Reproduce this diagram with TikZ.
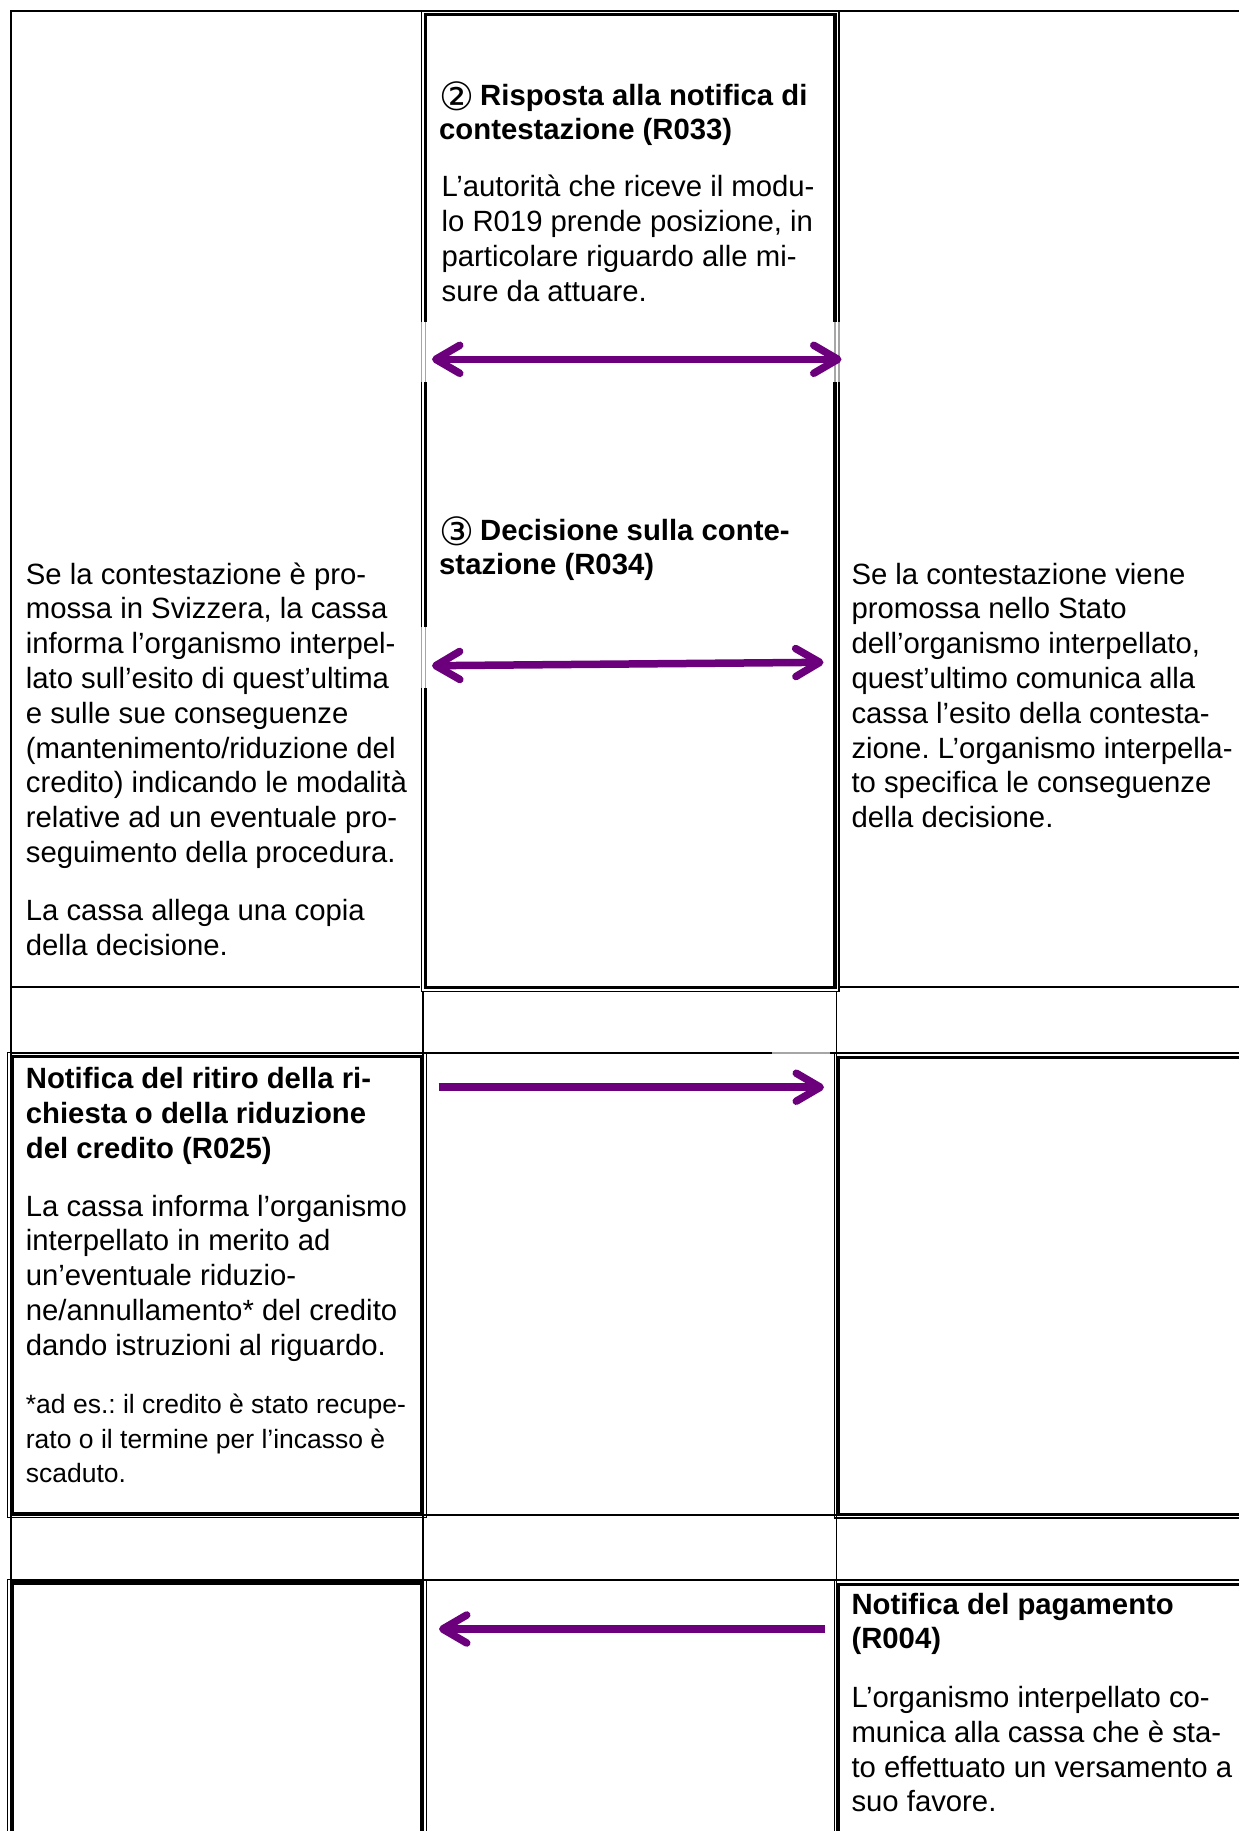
\documentclass[tikz,border=0pt]{standalone}
\usepackage{fontspec}
\setmainfont{Liberation Sans}[Ligatures=NoCommon]
\newfontfamily\circfont{DejaVu Sans}
\usetikzlibrary{arrows.meta}
\definecolor{arrowpurple}{RGB}{108,0,124}
\frenchspacing
\newcommand\lns[1]{\begin{tabular}[t]{@{}l@{}}#1\end{tabular}}
\newcommand\bodyfs{\fontsize{29.3pt}{34.8pt}\selectfont}
\newcommand\notefs{\fontsize{26.5pt}{34.5pt}\selectfont}
\newcommand\circnum[1]{\makebox[41pt][l]{\raisebox{-5pt}{\circfont\fontsize{39pt}{39pt}\selectfont #1}}}
\begin{document}
\begin{tikzpicture}[x=1pt,y=-1pt,
  gridline/.style={line width=1.7pt},
  dblout/.style={line width=1.5pt},
  dblin/.style={line width=3.6pt},
  artefact/.style={draw=black!35,line width=1.4pt},
  flow/.style={draw=arrowpurple,line width=7.5pt},
  >={Straight Barb[length=24pt,width=28pt,round]},
  txt/.style={inner sep=0pt,anchor=base west,font=\bodyfs},
  note/.style={inner sep=0pt,anchor=base west,font=\notefs}]
\useasboundingbox (0,0) rectangle (1239,1831);
\clip (0,0) rectangle (1239,1831);
\fill[white] (0,0) rectangle (1239,1831);

% ---- table grid (thin lines)
\draw[gridline] (11,11) -- (1260,11);
\draw[gridline] (11,987) -- (1260,987);
\draw[gridline] (11,1053) -- (1260,1053);
\draw[gridline] (11,1515) -- (1260,1515);
\draw[gridline] (11,1580) -- (1260,1580);
\draw[gridline] (11,10.2) -- (11,1900);
\draw[gridline] (423,11) -- (423,1900);
\draw[gridline] (836.5,11) -- (836.5,1900);

% ---- double-bordered cells
% row 1, middle column
\fill[white] (420,12) rectangle (840,992);
\draw[dblout] (421.5,11) rectangle (839,991.5);
\draw[dblin] (425.3,14.5) rectangle (835,987.5);
% row 3, left
\draw[dblout] (7.3,1052.7) rectangle (426.5,1517.5);
\draw[dblin] (12,1056.5) rectangle (422,1513.7);
% row 3, right
\draw[dblout] (834.3,1053.5) rectangle (1270,1518);
\draw[dblin] (838.5,1057.5) rectangle (1266,1514.5);
% row 5, left
\draw[dblout] (7.3,1579.3) rectangle (426.5,1900);
\draw[dblin] (12,1583) rectangle (422,1900);
% row 5, right
\draw[dblout] (834.3,1579.5) rectangle (1270,1900);
\draw[dblin] (838.5,1584.5) rectangle (1266,1900);

% ---- grey patches left where the arrows cover the borders
\fill[white] (419.5,322) rectangle (427.5,382);
\draw[artefact] (421.3,322) -- (421.3,382) (425.3,322) -- (425.3,382);
\fill[white] (833,322) rectangle (841,382);
\draw[artefact] (834.8,322) -- (834.8,382) (838.8,322) -- (838.8,382);
\fill[white] (419.5,627) rectangle (427.5,688);
\draw[artefact] (421.3,627) -- (421.3,688) (425.3,627) -- (425.3,688);
\draw[artefact] (772,1053) -- (830,1053);

% ---- middle column, row 1
\node[txt] (h2) at (439,105) {\lns{\circnum{②}\textbf{Risposta alla notifica di}\\
\textbf{contestazione (R033)}}};
\node[txt] (b2) at (441.4,196.7) {\lns{L’autorità che riceve il modu-\\
lo R019 prende posizione, in\\
particolare riguardo alle mi-\\
sure da attuare.}};
\node[txt] (h3) at (439,540) {\lns{\circnum{③}\textbf{Decisione sulla conte-}\\
\textbf{stazione (R034)}}};

% ---- left column, row 1
\node[txt] (l1) at (25.7,584) {\lns{Se la contestazione è pro-\\
mossa in Svizzera, la cassa\\
informa l’organismo interpel-\\
lato sull’esito di quest’ultima\\
e sulle sue conseguenze\\
(mantenimento/riduzione del\\
credito) indicando le modalità\\
relative ad un eventuale pro-\\
seguimento della procedura.}};
\node[txt] (l2) at (25.7,920.2) {\lns{La cassa allega una copia\\
della decisione.}};

% ---- right column, row 1
\node[txt] (r1) at (851.3,584) {\lns{Se la contestazione viene\\
promossa nello Stato\\
dell’organismo interpellato,\\
quest’ultimo comunica alla\\
cassa l’esito della contesta-\\
zione. L’organismo interpella-\\
to specifica le conseguenze\\
della decisione.}};

% ---- row 3, left
\node[txt] (n1) at (25.7,1088.5) {\lns{\textbf{Notifica del ritiro della ri-}\\
\textbf{chiesta o della riduzione}\\
\textbf{del credito (R025)}}};
\node[txt] (n2) at (25.7,1216) {\lns{La cassa informa l’organismo\\
interpellato in merito ad\\
un’eventuale riduzio-\\
ne/annullamento* del credito\\
dando istruzioni al riguardo.}};
\node[note] (n3) at (25.7,1413.5) {\lns{*ad es.: il credito è stato recupe-\\
rato o il termine per l’incasso è\\
scaduto.}};

% ---- row 5, right
\node[txt] (p1) at (851.3,1614) {\lns{\textbf{Notifica del pagamento}\\
\textbf{(R004)}}};
\node[txt] (p2) at (851.3,1707.5) {\lns{L’organismo interpellato co-\\
munica alla cassa che è sta-\\
to effettuato un versamento a\\
suo favore.}};

% ---- arrows
\coordinate (a1l) at (432,359.3);
\coordinate (a1r) at (841.5,359.3);
\coordinate (a2l) at (432,665.7);
\coordinate (a2r) at (823.5,662.3);
\coordinate (a3l) at (438.5,1087.2);
\coordinate (a3r) at (824,1087.2);
\coordinate (a4l) at (439,1629);
\coordinate (a4r) at (824.5,1629);
\draw[flow,<->] (a1l) -- (a1r);
\draw[flow,<->] (a2l) -- (a2r);
\draw[flow,->] (a3l) -- (a3r);
\draw[flow,->] (a4r) -- (a4l);
\end{tikzpicture}
\end{document}
